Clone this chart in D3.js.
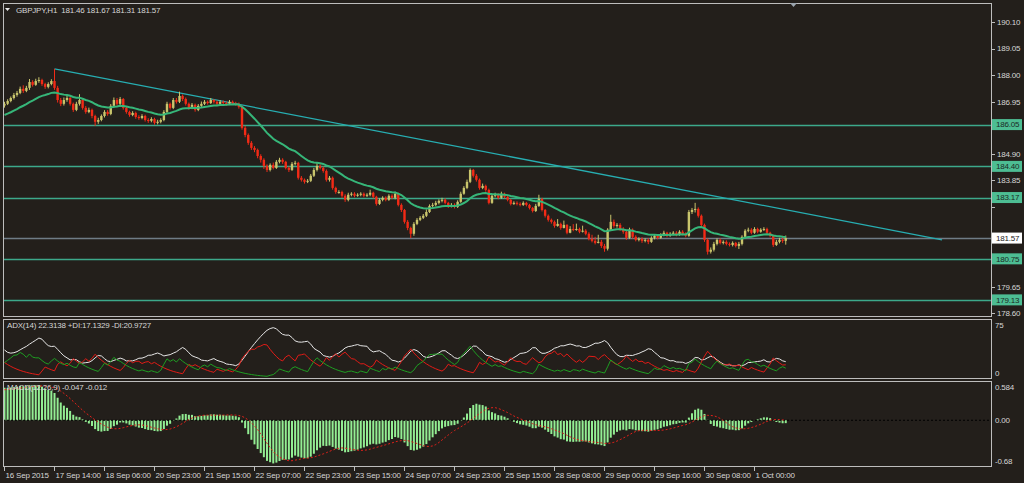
<!DOCTYPE html>
<html>
<head>
<meta charset="utf-8">
<script src="https://cdn.jsdelivr.net/npm/d3@7"></script>
<style>
 body { margin: 0; background: #231f1b; }
 svg { display: block; font-family: "Liberation Sans", Arial, sans-serif; }
</style>
</head>
<body>
<script>
 // GBPJPY H1 closes, one per bar (bar 0 = 16 Sep 22:00)
var closes = [186.87,186.98,187.10,187.22,187.30,187.46,187.38,187.50,187.73,187.62,187.77,187.81,187.65,187.54,187.65,187.77,187.50,
 187.02,186.87,187.02,187.10,186.87,186.63,186.87,187.02,186.71,186.55,186.63,186.39,186.16,186.23,
 186.39,186.55,186.47,186.79,187.02,186.87,187.06,186.71,
 186.55,186.43,186.51,186.35,186.31,186.39,186.23,186.20,186.27,186.12,186.16,186.23,
 186.55,186.87,186.71,187.02,186.95,187.18,187.06,
 186.87,186.71,186.83,186.63,186.79,186.87,
 186.95,186.90,187.02,186.95,186.87,186.95,186.90,186.87,186.95,186.90,186.87,186.75,
 185.92,185.64,185.33,185.13,185.05,184.81,184.66,184.42,184.26,184.46,184.34,184.58,184.66,184.58,184.34,184.26,184.50,184.54,
 183.95,183.87,183.79,183.83,184.03,184.26,184.42,184.34,184.22,183.87,183.95,183.55,183.39,183.39,183.24,183.08,183.28,
 183.32,183.24,183.28,183.32,183.24,183.28,183.36,183.20,182.92,183.08,183.16,183.08,183.24,183.16,183.32,182.88,182.68,182.21,181.97,181.74,
 182.13,182.29,182.37,182.45,182.60,182.84,182.88,182.96,183.04,183.08,182.96,182.84,182.88,182.80,183.00,183.32,183.55,183.79,184.26,184.03,
 183.87,183.55,183.63,183.47,182.96,183.24,183.28,183.16,183.32,183.20,183.08,182.92,182.96,182.92,182.88,182.96,182.88,182.76,182.64,182.84,
 183.12,182.68,182.45,182.29,182.21,182.05,182.13,181.97,182.09,181.78,181.93,181.90,181.93,181.82,181.86,181.74,181.54,181.46,181.38,181.42,
 181.26,181.15,181.90,182.21,182.05,182.09,181.93,181.82,181.58,181.90,181.62,181.50,181.54,181.46,181.50,181.42,181.58,181.66,181.58,181.70,
 181.78,181.66,181.74,181.78,181.70,181.82,181.74,181.66,182.60,182.68,182.72,182.45,182.09,181.50,181.03,181.11,181.34,181.50,181.38,181.42,
 181.34,181.30,181.38,181.26,181.34,181.62,181.86,181.90,181.78,181.93,181.82,181.90,181.93,181.78,181.66,181.30,181.42,181.50,181.46,181.57];

var highs = [186.95,187.05,187.16,187.30,187.38,187.55,187.60,187.58,187.85,187.80,187.86,187.92,187.86,187.70,187.72,187.84,188.25,
 187.58,187.10,187.12,187.20,187.15,186.92,186.95,187.25,187.08,186.78,186.72,186.68,186.44,186.32,
 186.45,186.62,186.62,186.86,187.12,187.10,187.14,187.10,
 186.76,186.60,186.58,186.56,186.42,186.46,186.44,186.30,186.34,186.32,186.24,186.30,
 186.62,186.95,186.92,187.10,187.10,187.35,187.24,
 187.12,186.92,186.90,186.88,186.86,186.96,
 187.02,187.00,187.10,187.06,187.00,187.02,187.00,186.96,187.02,187.00,186.95,186.92,
 186.80,186.00,185.70,185.40,185.20,185.10,184.88,184.72,184.48,184.52,184.55,184.65,184.74,184.72,184.62,184.40,184.57,184.62,
 184.58,184.02,183.92,183.90,184.10,184.34,184.54,184.48,184.40,184.28,184.02,184.00,183.60,183.46,183.44,183.30,183.36,
 183.38,183.38,183.34,183.38,183.37,183.34,183.48,183.40,183.24,183.14,183.22,183.22,183.30,183.30,183.40,183.36,182.94,182.72,182.28,182.02,
 182.20,182.36,182.44,182.52,182.70,182.90,182.96,183.04,183.10,183.16,183.14,183.00,182.95,182.94,183.06,183.40,183.62,183.88,184.32,184.30,
 184.10,183.92,183.72,183.68,183.52,183.30,183.36,183.34,183.40,183.36,183.24,183.12,183.02,183.02,182.98,183.02,183.00,182.92,182.80,182.92,
 183.28,183.16,182.72,182.50,182.34,182.26,182.32,182.18,182.26,182.12,182.04,182.12,182.14,181.98,182.06,181.92,181.80,181.70,181.62,181.70,
 181.50,181.34,181.96,182.49,182.30,182.16,182.16,182.00,181.86,181.98,181.95,181.68,181.60,181.60,181.56,181.56,181.64,181.72,181.72,181.76,
 181.86,181.82,181.80,181.84,181.84,181.88,181.88,181.80,182.68,182.76,182.96,182.78,182.50,182.14,181.55,181.20,181.42,181.56,181.56,181.48,
 181.48,181.40,181.44,181.42,181.42,181.68,181.92,181.98,181.96,182.00,181.98,181.96,182.00,181.98,181.82,181.70,181.50,181.58,181.66,181.67];

var lows = [186.72,186.82,186.93,187.04,187.15,187.25,187.30,187.33,187.42,187.55,187.58,187.70,187.58,187.46,187.48,187.60,187.42,
 186.92,186.78,186.80,186.95,186.80,186.55,186.58,186.80,186.64,186.48,186.50,186.30,186.00,186.08,
 186.18,186.33,186.40,186.42,186.72,186.80,186.82,186.64,
 186.48,186.36,186.38,186.28,186.24,186.26,186.17,186.12,186.14,186.05,186.06,186.10,
 186.18,186.50,186.64,186.66,186.88,186.90,186.98,
 186.80,186.64,186.66,186.56,186.58,186.74,
 186.82,186.84,186.86,186.88,186.80,186.82,186.84,186.80,186.82,186.85,186.80,186.68,
 185.85,185.55,185.25,185.05,184.96,184.72,184.55,184.30,184.18,184.20,184.28,184.30,184.52,184.50,184.28,184.18,184.22,184.44,
 183.88,183.80,183.72,183.74,183.78,183.98,184.20,184.28,184.15,183.80,183.80,183.48,183.32,183.32,183.16,183.00,183.02,
 183.22,183.18,183.20,183.22,183.18,183.19,183.22,183.13,182.85,182.88,183.02,183.02,183.04,183.10,183.10,182.82,182.60,182.14,181.88,181.57,
 181.66,182.08,182.24,182.32,182.40,182.56,182.78,182.82,182.90,182.98,182.90,182.76,182.78,182.74,182.76,182.96,183.28,183.50,183.74,183.96,
 183.80,183.48,183.50,183.40,182.90,182.92,183.18,183.10,183.12,183.14,183.02,182.86,182.88,182.86,182.82,182.84,182.82,182.70,182.58,182.60,
 182.80,182.62,182.38,182.22,182.14,181.98,182.02,181.90,181.95,181.72,181.76,181.84,181.86,181.76,181.79,181.68,181.48,181.40,181.32,181.36,
 181.18,181.03,181.08,181.86,181.98,181.98,181.86,181.74,181.50,181.54,181.55,181.44,181.44,181.38,181.40,181.33,181.38,181.52,181.52,181.54,
 181.64,181.60,181.62,181.68,181.64,181.66,181.68,181.60,181.62,182.52,182.58,182.38,182.00,181.42,180.92,180.96,181.04,181.28,181.32,181.32,
 181.28,181.24,181.24,181.20,181.14,181.28,181.56,181.80,181.72,181.74,181.76,181.78,181.85,181.72,181.60,181.22,181.26,181.36,181.38,181.31];

var firstOpen = 186.80;

 // chart objects
var levels = [186.05, 184.40, 183.17, 180.75, 179.13];
var lastPrice = 181.57;
var trendBars = [16, 300];
var trendPrices = [188.25, 181.50];

 // axis labels
var priceTicks = [190.10, 189.05, 188.00, 186.95, 185.90, 184.90, 183.85, 182.80, 181.75, 180.70, 179.65, 178.60];
var timeLabels = ["16 Sep 2015", "17 Sep 14:00", "18 Sep 06:00", "20 Sep 23:00", "21 Sep 15:00", "22 Sep 07:00",
 "22 Sep 23:00", "23 Sep 15:00", "24 Sep 07:00", "24 Sep 23:00", "25 Sep 15:00", "28 Sep 08:00",
 "29 Sep 00:00", "29 Sep 16:00", "30 Sep 08:00", "1 Oct 00:00"];
var barsPerLabel = 16;
var adxLabels = [75, 0];
var macdLabels = [0.584, 0, -0.68];

 // indicator settings and their state at the first visible bar
var maPeriod = 21, maStart = 186.43;
var ema12Start = 186.49, ema26Start = 186.00, signalStart = 0.45;
var adxPeriod = 14, pdiStart = 21, mdiStart = 21, adxStart = 38;

var W = 1024, H = 483;
var left = 3, right = 991;
var mainTop = 3, mainBottom = 316, adxTop = 319, adxBottom = 378, macdTop = 381, macdBottom = 466;
var bg = "#231f1b", textCol = "#d6d6d6", frame = "#bdbdbd";

 //---- indicators ----
var opens = closes.map(function(c, i) { return i === 0 ? firstOpen : closes[i - 1]; });

var ma = [], m = maStart, k = 2 / (maPeriod + 1);
closes.forEach(function(c, i) { if (i > 0) m = m + k * (c - m); ma.push(m); });

var macd = [], signal = [], e12 = ema12Start, e26 = ema26Start;
closes.forEach(function(c) {
 e12 += 2 / 13 * (c - e12);
 e26 += 2 / 27 * (c - e26);
 macd.push(e12 - e26);
});
macd.forEach(function(v, i) {
 var s = 0;
 for (var j = i - 8; j <= i; j++) s += j < 0 ? signalStart : macd[j];
 signal.push(s / 9);
});

 // MT4 style ADX: EMA of per-bar +SDI/-SDI and of DX
var pdiArr = [], mdiArr = [], adxArr = [];
var a = 2 / (adxPeriod + 1), pdi = pdiStart, mdi = mdiStart, adx = adxStart;
closes.forEach(function(c, i) {
 if (i > 0) {
 var pdm = Math.max(highs[i] - highs[i - 1], 0), mdm = Math.max(lows[i - 1] - lows[i], 0);
 if (pdm === mdm) { pdm = 0; mdm = 0; }
 else if (pdm < mdm) pdm = 0;
 else mdm = 0;
 var tr = Math.max(highs[i] - lows[i], Math.abs(highs[i] - closes[i - 1]), Math.abs(lows[i] - closes[i - 1]));
 var ps = tr ? 100 * pdm / tr : 0, ms = tr ? 100 * mdm / tr : 0;
 pdi += a * (ps - pdi);
 mdi += a * (ms - mdi);
 var dx = (pdi + mdi) ? 100 * Math.abs(pdi - mdi) / (pdi + mdi) : 0;
 adx += a * (dx - adx);
 }
 pdiArr.push(pdi); mdiArr.push(mdi); adxArr.push(adx);
});

 //---- drawing ----
var svg = d3.select("body").append("svg")
 .attr("width", W)
 .attr("height", H);
svg.append("rect").attr("width", W).attr("height", H).attr("fill", bg);

var x = d3.scaleLinear().domain([0, barsPerLabel]).range([4.5, 54.5]);
var y = d3.scaleLinear().domain([178.60, 190.10]).range([313.3, 22]);
var yAdx = d3.scaleLinear().domain([0, 80]).range([adxBottom, adxTop]);
var yMacd = d3.scaleLinear().domain([-0.68, 0.584]).range([macdBottom, macdTop]);

var defs = svg.append("defs");
[["clipMain", mainTop, mainBottom], ["clipAdx", adxTop, adxBottom], ["clipMacd", macdTop, macdBottom]].forEach(function(c) {
 defs.append("clipPath").attr("id", c[0]).append("rect")
 .attr("x", left + 1).attr("y", c[1] + 1).attr("width", right - left - 1).attr("height", c[2] - c[1] - 1);
});

var main = svg.append("g").attr("clip-path", "url(#clipMain)");

 //horizontal levels and bid line
main.selectAll(".level").data(levels).enter().append("line")
 .attr("x1", left).attr("x2", right)
 .attr("y1", function(d) { return Math.round(y(d)) + 0.5; })
 .attr("y2", function(d) { return Math.round(y(d)) + 0.5; })
 .attr("stroke", "#3ca98b").attr("stroke-width", 1.3);
main.append("line")
 .attr("x1", left).attr("x2", right)
 .attr("y1", Math.round(y(lastPrice)) + 0.5).attr("y2", Math.round(y(lastPrice)) + 0.5)
 .attr("stroke", "#6f7c86").attr("stroke-width", 1.3);

 //trend line
main.append("line")
 .attr("x1", x(trendBars[0])).attr("y1", y(trendPrices[0]))
 .attr("x2", x(trendBars[1])).attr("y2", y(trendPrices[1]))
 .attr("stroke", "#27aeb2").attr("stroke-width", 1.3);

 //candles
var bars = d3.range(closes.length);
main.selectAll(".wick").data(bars).enter().append("line")
 .attr("x1", function(i) { return x(i); }).attr("x2", function(i) { return x(i); })
 .attr("y1", function(i) { return y(highs[i]); })
 .attr("y2", function(i) { return y(lows[i]); })
 .attr("stroke", function(i) { return closes[i] >= opens[i] ? "#c9c56c" : "#f22a16"; })
 .attr("stroke-width", 1);
main.selectAll(".body").data(bars).enter().append("rect")
 .attr("x", function(i) { return x(i) - 1.2; })
 .attr("width", 2.4)
 .attr("y", function(i) { return y(Math.max(opens[i], closes[i])); })
 .attr("height", function(i) { return Math.max(1, Math.abs(y(opens[i]) - y(closes[i]))); })
 .attr("fill", function(i) { return closes[i] >= opens[i] ? "#c9c56c" : "#f22a16"; });

 //moving average
main.append("path")
 .attr("d", d3.line().x(function(d, i) { return x(i); }).y(function(d) { return y(d); })(ma))
 .attr("fill", "none").attr("stroke", "#36b679").attr("stroke-width", 2);

 //ADX window
var adxG = svg.append("g").attr("clip-path", "url(#clipAdx)");
[[adxArr, "#e6e6e6"], [mdiArr, "#e21b16"], [pdiArr, "#1e9e22"]].forEach(function(s) {
 adxG.append("path")
 .attr("d", d3.line().x(function(d, i) { return x(i); }).y(function(d) { return yAdx(d); })(s[0]))
 .attr("fill", "none").attr("stroke", s[1]).attr("stroke-width", 1);
});

 //MACD window
var macdG = svg.append("g").attr("clip-path", "url(#clipMacd)");
macdG.selectAll(".hist").data(macd).enter().append("rect")
 .attr("x", function(d, i) { return x(i) - 1; })
 .attr("width", 2)
 .attr("y", function(d) { return Math.min(yMacd(d), yMacd(0)); })
 .attr("height", function(d) { return Math.abs(yMacd(d) - yMacd(0)); })
 .attr("fill", "#93ee93");
macdG.append("line")
 .attr("x1", left).attr("x2", right).attr("y1", yMacd(0)).attr("y2", yMacd(0))
 .attr("stroke", "#000").attr("stroke-dasharray", "2,2");
macdG.append("path")
 .attr("d", d3.line().x(function(d, i) { return x(i); }).y(function(d) { return yMacd(d); })(signal))
 .attr("fill", "none").attr("stroke", "#e0201a").attr("stroke-width", 1).attr("stroke-dasharray", "2,2");

 //panel frames
[[mainTop, mainBottom], [adxTop, adxBottom], [macdTop, macdBottom]].forEach(function(p) {
 svg.append("rect").attr("x", left + 0.5).attr("y", p[0] + 0.5)
 .attr("width", right - left).attr("height", p[1] - p[0])
 .attr("fill", "none").attr("stroke", frame).attr("stroke-width", 1);
});

function label(g, tx, ty, str, fill, anchor) {
 return g.append("text").attr("x", tx).attr("y", ty).attr("dy", "0.35em")
 .attr("fill", fill || textCol).attr("font-size", "8px").attr("letter-spacing", "-0.2px")
 .attr("text-anchor", anchor || "start").text(str);
}

 //price axis: tick marks everywhere, text only where no object label sits on it
var boxed = levels.concat([lastPrice]);
priceTicks.forEach(function(p) {
 svg.append("line").attr("x1", right + 1).attr("x2", right + 4)
 .attr("y1", Math.round(y(p)) + 0.5).attr("y2", Math.round(y(p)) + 0.5).attr("stroke", frame);
 var hidden = boxed.some(function(b) { return Math.abs(y(b) - y(p)) < 10; });
 if (!hidden) label(svg, 997, y(p), p.toFixed(2));
});
levels.forEach(function(p) {
 svg.append("rect").attr("x", right + 1).attr("y", y(p) - 5.5).attr("width", 30).attr("height", 11).attr("fill", "#4dbd93");
 label(svg, 996, y(p), p.toFixed(2), "#1c2a24");
});
svg.append("rect").attr("x", right + 1).attr("y", y(lastPrice) - 5.5).attr("width", 30).attr("height", 11).attr("fill", "#ffffff");
label(svg, 996, y(lastPrice), lastPrice.toFixed(2), "#222");

 //indicator scales, labels kept inside their window like MT4 does
adxLabels.forEach(function(v) {
 label(svg, 995, Math.max(adxTop + 6, Math.min(adxBottom - 5, yAdx(v))), String(v));
});
macdLabels.forEach(function(v) {
 label(svg, 995, Math.max(macdTop + 6, Math.min(macdBottom - 5, yMacd(v))), v === 0 ? "0.00" : String(v));
});

 //time axis
timeLabels.forEach(function(t, j) {
 var tx = Math.round(x(j * barsPerLabel)) - 0.5;
 svg.append("line").attr("x1", tx).attr("x2", tx).attr("y1", macdBottom + 1).attr("y2", macdBottom + 5).attr("stroke", frame);
 label(svg, tx + 1, 475, t);
});

 //window titles
svg.append("path").attr("d", "M5,8 L10,8 L7.5,11 Z").attr("fill", "#e8e8e8");
label(svg, 16, 10, "GBPJPY,H1  181.46 181.67 181.31 181.57").style("white-space", "pre");
label(svg, 7, 325, "ADX(14) 22.3138 +DI:17.1329 -DI:20.9727");
label(svg, 7, 387, "MACD(12,26,9) -0.047 -0.012");

 //chart shift marker
svg.append("path").attr("d", "M790,3 L797,3 L793.5,7 Z").attr("fill", "#9aa4ad");
</script>
</body>
</html>
